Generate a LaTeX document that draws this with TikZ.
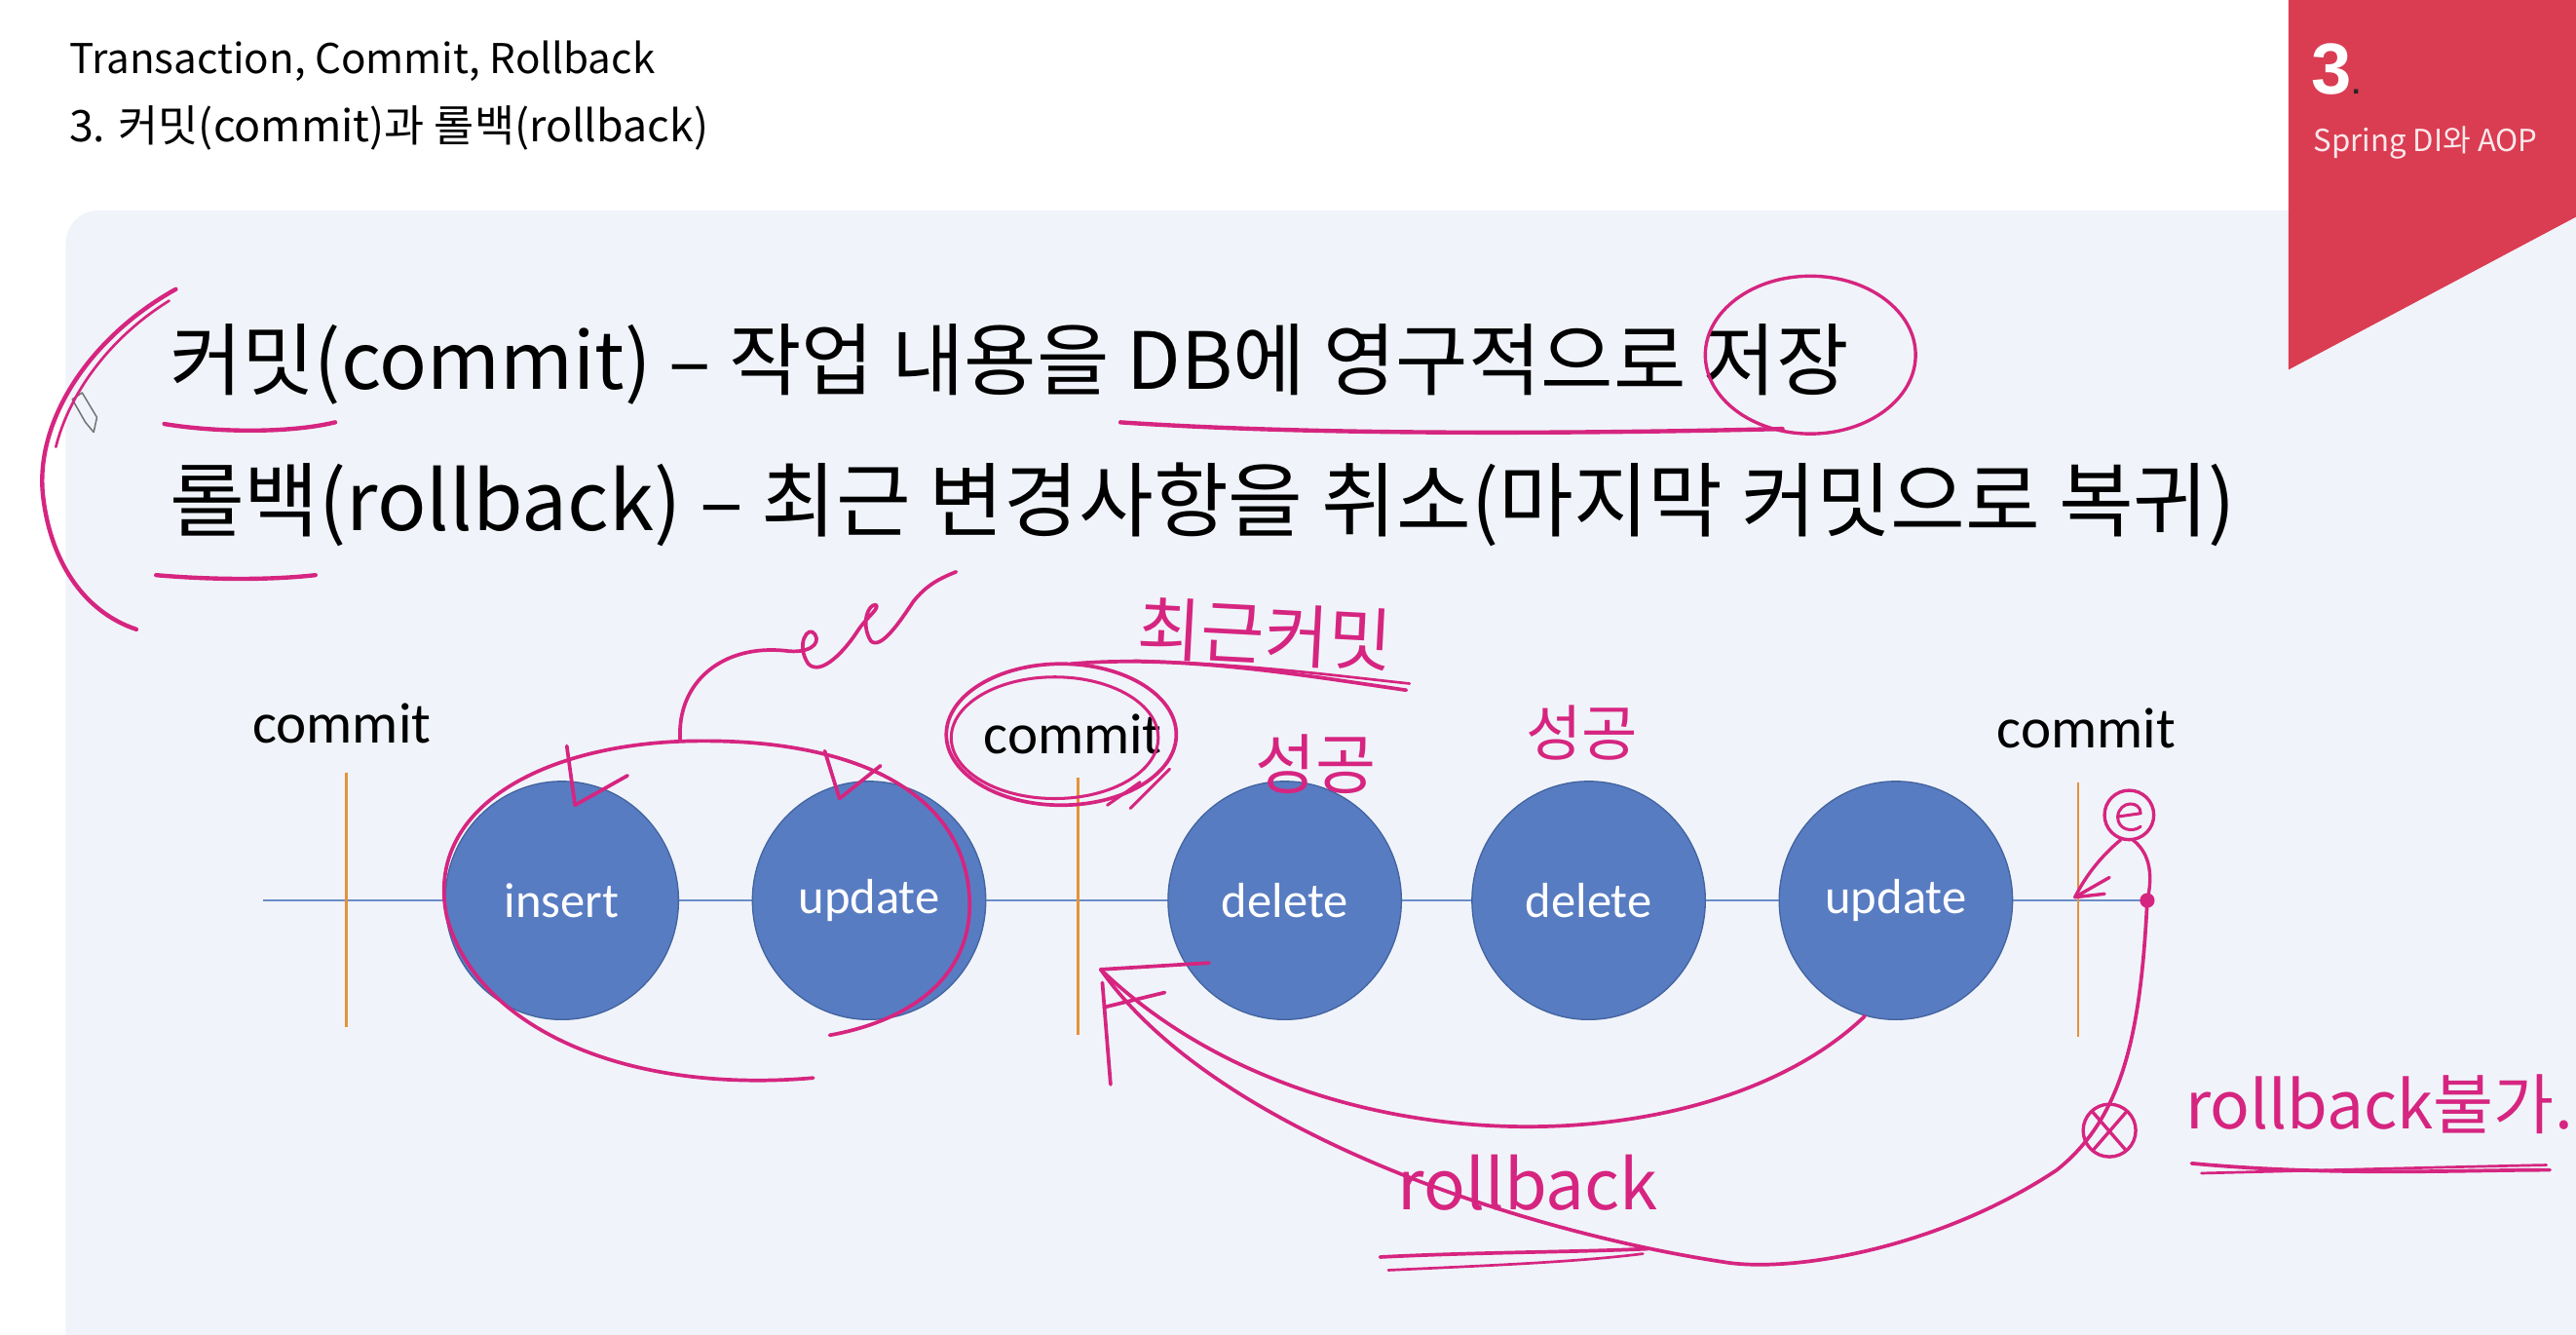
\documentclass[tikz,border=0pt]{standalone}
\usepackage{fontspec}
\setmainfont{Noto Sans CJK KR}
\newfontfamily\krfont{Noto Sans CJK KR}
\newfontfamily\calfont{Carlito}
\newfontfamily\badgefont{Liberation Sans}
\usetikzlibrary{shapes.geometric}
\definecolor{panelbg}{HTML}{F0F4FA}
\definecolor{badgered}{HTML}{DA3C52}
\definecolor{nodeblue}{HTML}{587CC2}
\definecolor{nodeedge}{HTML}{4464A0}
\definecolor{tickorange}{HTML}{E6913C}
\definecolor{lineblue}{HTML}{6C8CC8}
\definecolor{pen}{HTML}{D62580}
\begin{document}
\begin{tikzpicture}[x=1pt,y=-1pt,
  opnode/.style={ellipse, fill=nodeblue, draw=nodeedge, line width=0.8pt,
    minimum width=142pt, minimum height=145pt, inner sep=0pt, text=white,
    font=\calfont\fontsize{30}{34}\selectfont},
  cmlabel/.style={inner sep=0pt, font=\calfont\fontsize{35}{40}\selectfont},
  tickline/.style={draw=tickorange, line width=1.6pt},
  penline/.style={draw=pen, line width=2.6pt, line cap=round, line join=round},
  handtext/.style={inner sep=0pt, text=pen, font=\krfont\fontsize{40}{44}\selectfont},
  bodytext/.style={anchor=west, inner sep=0pt, font=\krfont\fontsize{49.5}{58}\selectfont},
  headtext/.style={anchor=west, inner sep=0pt, font=\krfont\fontsize{25}{30}\selectfont}
]
\useasboundingbox (0,0) rectangle (1568,812);
% backgrounds
\fill[white] (0,0) rectangle (1568,812);
\fill[panelbg] (1700,128) -- (60,128) .. controls (49,128) and (40,137) .. (40,148) -- (40,900) -- (1700,900) -- cycle;
\fill[badgered] (1393,0) -- (1568,0) -- (1568,132) -- (1393,225) -- cycle;
% badge text
\node[anchor=base west, inner sep=0pt, text=white, font=\badgefont\bfseries\fontsize{44}{50}\selectfont] (num) at (1407,57) {3\textcolor{black!85}{\fontsize{18}{18}\selectfont.}};
\node[anchor=west, inner sep=0pt, text=white!88!badgered, font=\krfont\fontsize{18.5}{22}\selectfont] (chap) at (1408,87) {Spring DI와 AOP};
% header
\node[headtext] (h1) at (42,37) {Transaction, Commit, Rollback};
\node[headtext, font=\krfont\fontsize{26.5}{31}\selectfont] (h2) at (42,78) {3. 커밋(commit)과 롤백(rollback)};
% body
\node[bodytext, font=\krfont\fontsize{48}{56}\selectfont] (b1) at (103,222) {커밋(commit) – 작업 내용을 DB에 영구적으로 저장};
\node[bodytext] (b2) at (103,307) {롤백(rollback) – 최근 변경사항을 취소(마지막 커밋으로 복귀)};
% pencil cursor
\draw[black!55, line width=0.9pt, line join=round] (44,243) -- (50,239) -- (59,254) -- (57,263) -- (52,257) -- cycle;
% timeline
\coordinate (tlL) at (160,548);
\coordinate (tlR) at (1303,548);
\draw[lineblue, line width=1.3pt] (tlL) -- (tlR);
\coordinate (t1a) at (211,470); \coordinate (t1b) at (211,625);
\coordinate (t2a) at (656,473); \coordinate (t2b) at (656,630);
\coordinate (t3a) at (1265,476); \coordinate (t3b) at (1265,631);
\draw[tickline] (t1a) -- (t1b);
\draw[tickline] (t2a) -- (t2b);
\draw[tickline] (t3a) -- (t3b);
\node[opnode] (i1) at (342,548) {insert};
\node[opnode] (u1) at (529,548) {update};
\node[opnode] (d1) at (782,548) {delete};
\node[opnode] (d2) at (967,548) {delete};
\node[opnode] (u2) at (1154,548) {update};
\node[cmlabel] (c1) at (208,440) {commit};
\node[cmlabel] (c2) at (653,447) {commit};
\node[cmlabel] (c3) at (1270,443) {commit};
% ---- handwriting ----
% bracket
\draw[penline] (107,176) .. controls (55,205) and (22,255) .. (26,300) .. controls (30,340) and (50,372) .. (83,383);
\draw[penline, line width=1.6pt] (103,183) .. controls (66,206) and (42,240) .. (34,272);
% underlines
\draw[penline] (100,258) .. controls (130,263) and (175,264) .. (204,257);
\draw[penline] (95,350) .. controls (130,353) and (165,353) .. (192,350);
\draw[penline] (682,257) .. controls (800,265) and (960,264) .. (1085,261);
% circle around storage word
\draw[penline, line width=2pt] (1102,216) ellipse [x radius=64pt, y radius=48pt];
% big loop around insert/update
\draw[penline, line width=2.2pt] (495,656) .. controls (380,666) and (290,625) .. (272,558) .. controls (258,492) and (330,453) .. (420,451) .. controls (520,449) and (586,482) .. (590,545) .. controls (593,590) and (560,620) .. (505,630);
% curly arc with loops
\draw[penline, line width=2.2pt] (414,450) .. controls (412,415) and (440,392) .. (478,396) .. controls (492,398) and (500,392) .. (496,386) .. controls (492,380) and (484,392) .. (492,404) .. controls (500,412) and (515,395) .. (522,384) .. controls (528,375) and (536,370) .. (533,368) .. controls (528,368) and (524,380) .. (530,390) .. controls (536,396) and (548,378) .. (556,366) .. controls (564,356) and (572,352) .. (582,348);
% checkmarks
\draw[penline, line width=2.2pt] (345,454) -- (350,490) -- (382,472);
\draw[penline, line width=2.2pt] (502,457) -- (511,486) -- (536,466);
% circle around middle commit
\draw[penline, line width=2.2pt] (646,447) ellipse [x radius=70pt, y radius=43pt];
\draw[penline, line width=1.8pt] (642,449) ellipse [x radius=63pt, y radius=37pt];
\draw[penline, line width=1.8pt] (674,490) -- (694,476);
\draw[penline, line width=1.8pt] (688,492) -- (712,468);
% recent commit note
\node[handtext, rotate=-3, font=\krfont\fontsize{42}{46}\selectfont] (recent) at (770,386) {최근커밋};
\draw[penline, line width=2.2pt] (652,404) .. controls (720,398) and (800,412) .. (856,420);
\draw[penline, line width=1.6pt] (690,402) .. controls (760,404) and (820,412) .. (858,416);
\node[handtext] (ok1) at (801,465) {성공};
\node[handtext, font=\krfont\fontsize{37}{40}\selectfont] (ok2) at (963,446) {성공};
% right commit marks
\draw[penline, line width=2pt] (1296,496) circle (15pt);
\draw[penline, line width=1.8pt] (1289,497) -- (1303,495) .. controls (1303,487) and (1290,487) .. (1289,497) .. controls (1289,505) and (1298,507) .. (1303,503);
\coordinate (arrR) at (1263,546);
\draw[penline, line width=2pt] (1291,511) .. controls (1280,520) and (1270,532) .. (arrR);
\draw[penline, line width=2pt] (arrR) -- (1284,534);
\draw[penline, line width=2pt] (arrR) -- (1281,544);
\coordinate (dot) at (1307,548);
\draw[penline, line width=2pt] (1298,511) .. controls (1310,520) and (1310,535) .. (dot);
\fill[pen] (dot) circle (4.5pt);
% rollback arrows
\coordinate (rbtip) at (670,590);
\draw[penline, line width=2.2pt] (u2.-105) .. controls (1040,710) and (800,715) .. (rbtip);
\coordinate (rbbot) at (1049,768);
\draw[penline, line width=2.2pt] (dot) .. controls (1303,630) and (1292,680) .. (1252,712) .. controls (1180,760) and (1090,775) .. (rbbot) .. controls (930,750) and (740,690) .. (rbtip);
\draw[penline, line width=2.2pt] (rbtip) -- (736,586);
\draw[penline, line width=2.2pt] (672,613) -- (709,604);
\draw[penline, line width=2.2pt] (671,598) -- (676,660);
% not possible mark
\draw[penline, line width=2pt] (1284,688) circle (16pt);
\draw[penline, line width=2pt] (1274,677) -- (1294,700);
\draw[penline, line width=2pt] (1294,677) -- (1274,700);
% rollback texts
\node[handtext, font=\krfont\fontsize{42}{46}\selectfont] (rbtext) at (930,720) {rollback};
\draw[penline, line width=2.2pt] (840,765) .. controls (900,762) and (960,762) .. (1003,760);
\draw[penline, line width=1.6pt] (845,773) .. controls (910,770) and (960,768) .. (1000,763);
\node[handtext, anchor=west] (rbno) at (1330,672) {rollback불가.};
\draw[penline, line width=2.2pt] (1334,708) .. controls (1420,716) and (1500,712) .. (1552,712);
\draw[penline, line width=1.6pt] (1340,714) .. controls (1420,712) and (1500,710) .. (1550,709);
\end{tikzpicture}
\end{document}
